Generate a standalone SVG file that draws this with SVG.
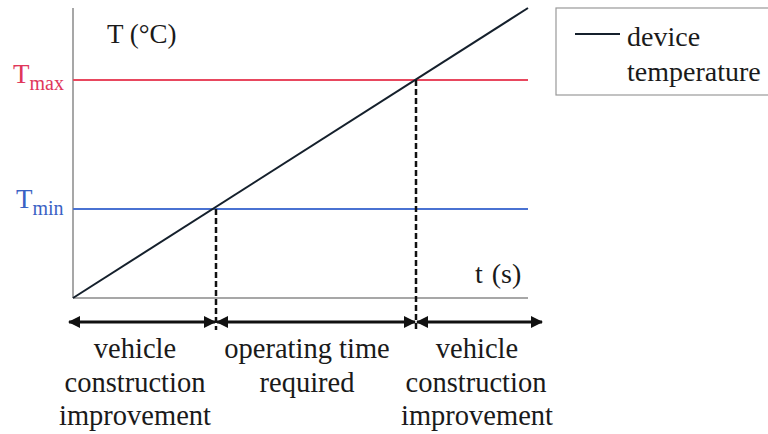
<svg xmlns="http://www.w3.org/2000/svg" width="768" height="434" viewBox="0 0 768 434">
<defs>
<marker id="ah" viewBox="0 0 12 12" refX="11" refY="6" markerWidth="12" markerHeight="12" markerUnits="userSpaceOnUse" orient="auto-start-reverse">
<path d="M0,0 L12,6 L0,12 Z" fill="#111"/>
</marker>
<style>
.lab{font-size:28.5px;text-anchor:middle}
.axis{stroke:#8a8a8a;stroke-width:1.5;fill:none}
.dash{stroke:#111;stroke-width:2.5;stroke-dasharray:6 3;fill:none}
.arr{stroke:#111;stroke-width:3;fill:none;marker-start:url(#ah);marker-end:url(#ah)}
</style>
</defs>
<rect width="768" height="434" fill="#fff"/>
<g fill="#1a1a1a" font-family="Liberation Serif, Times New Roman, serif">
<g id="axes">
<line class="axis" x1="73" y1="8" x2="73" y2="298"/>
<line class="axis" x1="73" y1="298" x2="528" y2="298"/>
<text x="107" y="43" font-size="27">T (°C)</text>
<text x="475" y="283" font-size="28" word-spacing="2">t (s)</text>
</g>
<g id="tmax">
<line x1="73" y1="80" x2="528" y2="80" stroke="#e8485e" stroke-width="2"/>
<text x="13" y="83" font-size="27" fill="#e0375a">T<tspan font-size="20" dy="7">max</tspan></text>
</g>
<g id="tmin">
<line x1="73" y1="209" x2="528" y2="209" stroke="#4a72d2" stroke-width="2"/>
<text x="16" y="208" font-size="27" fill="#3a62c4">T<tspan font-size="20" dy="7">min</tspan></text>
</g>
<g id="curve">
<line x1="73" y1="298" x2="528" y2="8" stroke="#15202c" stroke-width="2"/>
</g>
<g id="legend">
<rect x="556" y="8" width="220" height="87" fill="#fff" stroke="#999" stroke-width="1.2"/>
<line x1="575" y1="34" x2="620" y2="34" stroke="#15202c" stroke-width="2"/>
<text x="627" y="46" font-size="28">device</text>
<text x="627" y="81" font-size="28">temperature</text>
</g>
<g id="connectors">
<line class="dash" x1="216" y1="209" x2="216" y2="330"/>
<line class="dash" x1="416" y1="80" x2="416" y2="330"/>
<line class="arr" x1="69" y1="322" x2="215" y2="322"/>
<line class="arr" x1="217" y1="322" x2="415" y2="322"/>
<line class="arr" x1="417" y1="322" x2="542" y2="322"/>
</g>
<g id="labels">
<text class="lab" x="135" y="358">vehicle</text>
<text class="lab" x="135" y="392">construction</text>
<text class="lab" x="135" y="425">improvement</text>
<text class="lab" x="307" y="358">operating time</text>
<text class="lab" x="307" y="392">required</text>
<text class="lab" x="477" y="358">vehicle</text>
<text class="lab" x="476" y="392">construction</text>
<text class="lab" x="477" y="425">improvement</text>
</g>
</g>
</svg>
